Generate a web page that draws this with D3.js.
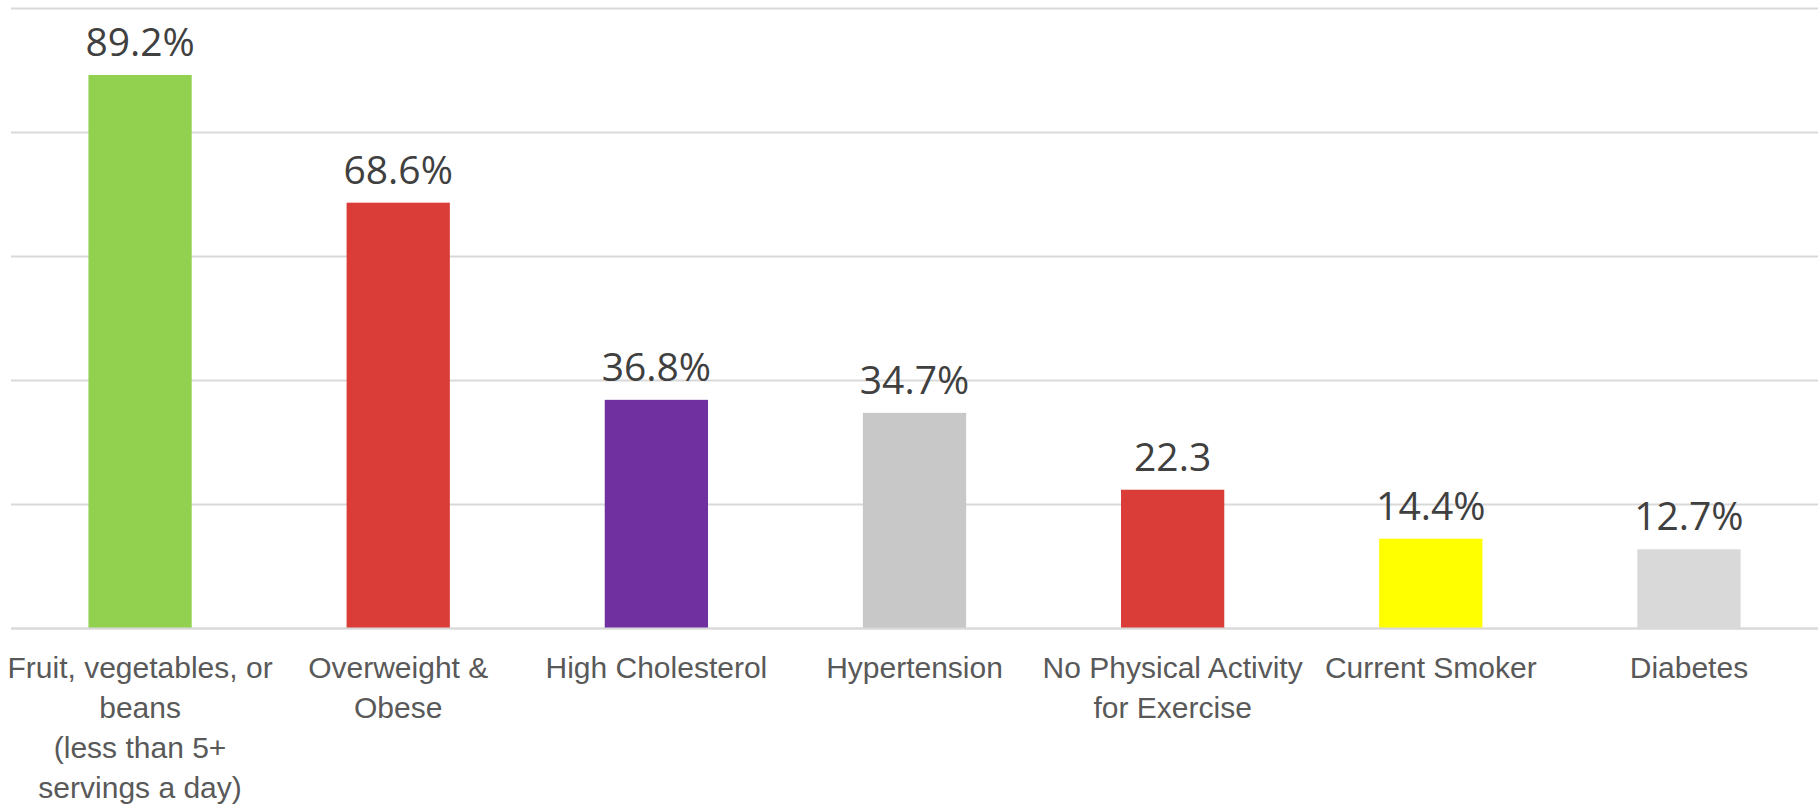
<!DOCTYPE html>
<html lang="en">
<head>
  <meta charset="UTF-8">
  <title>Risk Factors Bar Chart</title>
  <script src="https://d3js.org/d3.v7.min.js"></script>
  <style>
    body { margin: 0; background: #fff; }
    svg { display: block; font-family: "Open Sans", sans-serif; }
    .grid line { stroke: #d9d9d9; stroke-width: 2; }
    .grid .domain { display: none; }
    .xaxis .domain { stroke: #d9d9d9; stroke-width: 2; }
    .xaxis text { fill: #595959; font-size: 30px; }
    .value { fill: #404040; font-size: 39px; }
  </style>
</head>
<body>
<div id="chart"></div>
<script>
  // Categories (each split into its wrapped lines), values and labels
  const categories = [
    ['Fruit, vegetables, or', 'beans', '(less than 5+', 'servings a day)'],
    ['Overweight &', 'Obese'],
    ['High Cholesterol'],
    ['Hypertension'],
    ['No Physical Activity', 'for Exercise'],
    ['Current Smoker'],
    ['Diabetes']
  ];
  const values = [89.2, 68.6, 36.8, 34.7, 22.3, 14.4, 12.7];
  const valueLabels = ['89.2%', '68.6%', '36.8%', '34.7%', '22.3', '14.4%', '12.7%'];
  const colors = ['#92d050', '#da3c38', '#7030a0', '#c8c8c8', '#da3c38', '#ffff00', '#d9d9d9'];
  const gridTicks = [0, 20, 40, 60, 80, 100];

  const W = 1818, H = 805;
  const margin = { top: 8, right: 0, bottom: 177, left: 11 };
  const width = W - margin.left - margin.right;
  const height = H - margin.top - margin.bottom;

  const keys = categories.map((c, i) => i);

  const x = d3.scaleBand().domain(keys).range([0, width])
    .paddingInner(0.6).paddingOuter(0.3);
  const y = d3.scaleLinear().domain([0, 100]).range([height, 0]);

  const svg = d3.select('#chart').append('svg')
    .attr('width', W).attr('height', H)
    .append('g')
    .attr('transform', `translate(${margin.left},${margin.top})`);

  // gridlines
  svg.append('g')
    .attr('class', 'grid')
    .call(d3.axisLeft(y).tickValues(gridTicks).tickSize(-width).tickFormat(''));

  // bars
  svg.selectAll('rect.bar')
    .data(values)
    .enter().append('rect')
    .attr('class', 'bar')
    .attr('x', (d, i) => x(i))
    .attr('y', d => y(d))
    .attr('width', x.bandwidth())
    .attr('height', d => y(0) - y(d))
    .attr('fill', (d, i) => colors[i]);

  // value labels
  svg.selectAll('text.value')
    .data(values)
    .enter().append('text')
    .attr('class', 'value')
    .attr('x', (d, i) => x(i) + x.bandwidth() / 2)
    .attr('y', d => y(d) - 19)
    .attr('text-anchor', 'middle')
    .text((d, i) => valueLabels[i]);

  // x axis with wrapped labels
  const xAxis = svg.append('g')
    .attr('class', 'xaxis')
    .attr('transform', `translate(0,${height})`)
    .call(d3.axisBottom(x).tickSize(0).tickSizeOuter(0).tickFormat(''));

  xAxis.selectAll('.tick text').remove();
  xAxis.selectAll('.tick')
    .append('text')
    .attr('text-anchor', 'middle')
    .attr('y', 50)
    .each(function(i) {
      const t = d3.select(this);
      categories[i].forEach((line, k) => {
        t.append('tspan').attr('x', 0).attr('dy', k === 0 ? 0 : 40).text(line);
      });
    });
</script>
</body>
</html>
